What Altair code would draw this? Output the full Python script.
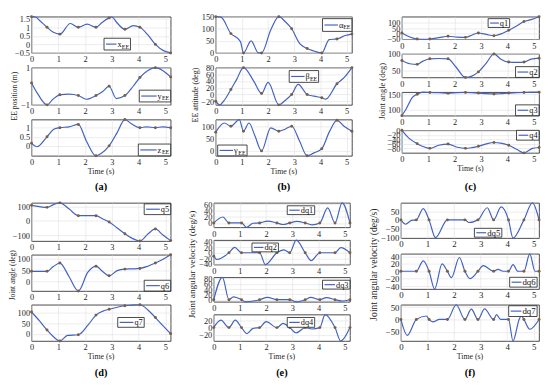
import altair as alt
import pandas as pd

# ---------------- shared values ----------------
T_MAX = 5.2
WP_T = [0, 0.58, 1.06, 1.75, 2.41, 2.9, 3.49, 4.05, 4.63, 5.2]
X_TICKS = [0, 1, 2, 3, 4, 5]

# ---------------- panel (a) EE position ----------------
XEE_WP = [1.62, 1.0, 0.6, 1.0, 1.0, 1.55, 0.88, 1.0, 0.0, -0.5]
XEE_T = [0.15, 0.3, 0.8, 1.45, 2.08, 2.65, 3.0, 3.2, 3.8, 4.35, 4.95]
XEE_V = [1.6, 1.4, 0.72, 1.22, 1.18, 1.3, 1.6, 1.25, 1.1, 0.55, -0.38]
XEE_TICKS = [-0.5, 0, 0.5, 1, 1.5]

YEE_WP = [0.18, -1.0, -0.46, -0.5, -0.5, 0.0, -0.5, 0.47, 1.0, 0.5]
YEE_T = [0.25, 0.8, 1.4, 2.05, 2.65, 3.17, 3.8, 4.35, 4.9]
YEE_V = [-0.45, -0.7, -0.42, -0.7, -0.3, -0.66, 0.0, 0.85, 0.85]
YEE_TICKS = [-1, 0, 1]

ZEE_WP = [0.15, 0.5, 1.0, 1.18, -0.55, 0.0, 1.45, 1.0, 1.0, 1.0]
ZEE_T = [0.2, 0.85, 1.4, 2.05, 2.6, 3.2, 3.75, 4.3, 4.9]
ZEE_V = [-0.05, 0.93, 1.05, 0.27, -0.42, 0.73, 1.2, 1.05, 1.05]
ZEE_TICKS = [0, 0.5, 1]

# ---------------- panel (b) EE attitude ----------------
AEE_WP = [150, 80, 0, 0, 150, 100, 18, 0, 58, 78]
AEE_T = [0.2, 0.84, 0.95, 1.35, 1.63, 2.1, 2.65, 3.2, 3.75, 4.33, 4.95]
AEE_V = [148, 60, 45, 50, 0, 95, 130, 40, 8, 55, 72]
AEE_TICKS = [0, 50, 100, 150]

BEE_WP = [-20, 15, 80, 3, -31, 0, 0, -10, 32, 80]
BEE_T = [0.15, 0.35, 0.8, 1.45, 2.0, 2.65, 3.15, 3.75, 4.2, 4.9]
BEE_V = [-31, -15, 45, 40, 36, -18, 30, -5, -14, 50]
BEE_TICKS = [-20, 0, 20, 40, 60, 80]

GEE_WP = [76, 100, 80, 0, 80, 100, -20, 9, 124, 80]
GEE_T = [0.33, 0.9, 1.27, 1.5, 2.1, 2.65, 3.2, 3.75, 4.35, 4.9]
GEE_V = [113, 127, 113, 60, 93, 88, 40, -8, 80, 100]
GEE_TICKS = [0, 50, 100]

# ---------------- panel (c) joint angles q1-q4 ----------------
Q1_WP = [5, -50, -50, -25, -35, 5, -20, 30, 110, 155]
Q1_T = [0.3, 0.8, 1.4, 2.1, 2.65, 3.2, 3.8, 4.35, 4.9]
Q1_V = [-32, -52, -38, -33, -15, -8, 0, 70, 128]
Q1_TICKS = [-50, 0, 50, 100]

Q2_WP = [80, 68, 85, 85, 28, 45, 100, 75, 75, 87]
Q2_T = [0.3, 0.8, 1.4, 2.05, 2.65, 3.2, 3.75, 4.35, 4.9]
Q2_V = [70, 78, 86, 60, 32, 72, 84, 74, 84]
Q2_TICKS = [50, 100]

Q3_WP = [80, 150, 156, 153, 156, 154, 151, 154, 156, 157]
Q3_T = [0.15, 0.4, 0.8, 1.4, 2.1, 2.65, 3.2, 3.75, 4.35, 4.9]
Q3_V = [100, 140, 157, 155, 155, 155, 152, 152, 155, 157]
Q3_TICKS = [100, 150]

Q4_WP = [0, -59, -80, -61, -80, -71, -54, -66, -100, -76]
Q4_T = [0.3, 0.8, 1.4, 2.1, 2.65, 3.2, 3.75, 4.35, 4.95]
Q4_V = [-38, -72, -66, -75, -77, -60, -57, -84, -80]
Q4_TICKS = [-80, -60, -40, -20, 0]

# ---------------- panel (d) joint angles q5-q7 ----------------
Q5_WP = [107, 93, 124, 36, 36, -7, -88, -138, -55, -135]
Q5_T = [0.3, 0.8, 1.4, 2.1, 2.65, 3.2, 3.75, 4.35, 4.9]
Q5_V = [98, 110, 83, 36, 15, -48, -118, -90, -95]
Q5_TICKS = [-100, 0, 100]

Q6_WP = [45, 45, 82, -43, 68, 25, 55, 58, 82, 119]
Q6_T = [0.3, 0.8, 1.4, 2.1, 2.65, 3.2, 3.75, 4.35, 4.9]
Q6_V = [45, 65, 22, 40, 45, 48, 56, 68, 98]
Q6_TICKS = [0, 50, 100]

Q7_WP = [105, 18, -35, -5, 90, 118, 135, 140, 78, 0]
Q7_T = [0.3, 0.8, 1.35, 2.1, 2.65, 3.2, 3.75, 4.35, 4.9]
Q7_V = [62, -12, -8, 40, 108, 128, 138, 115, 40]
Q7_TICKS = [0, 50, 100]

# ---------------- panel (e) joint velocities dq1-dq4 ----------------
DQ1_WP = [0, 0, 0, 0, 0, 0, 0, 0, 0, 0]
DQ1_T = [0.35, 0.8, 1.25, 1.5, 2.05, 2.65, 3.17, 3.75, 4.35, 4.9]
DQ1_V = [19, 0, -14, -1, 6, -5, 5, -6, 48, 64]
DQ1_TICKS = [0, 20, 40, 60]

DQ2_WP = [-12, 0, 0, 0, 0, 0, 0, 0, 0, 0]
DQ2_T = [0.12, 0.8, 1.4, 1.97, 2.68, 3.15, 3.72, 4.35, 4.85]
DQ2_V = [-24, 19, 0, -42, 10, 45, -28, 0, 18]
DQ2_TICKS = [-40, -20, 0, 20, 40]

DQ3_WP = [0, 0, 0, 0, 0, 0, 0, 0, 0, 0]
DQ3_T = [0.33, 0.75, 1.2, 2.05, 2.65, 3.15, 3.7, 4.3, 4.9]
DQ3_V = [85, 11, -8, 9, 0, -8, 9, 8, -5]
DQ3_TICKS = [0, 20, 40, 60, 80]

DQ4_WP = [0, 0, 0, 0, 0, 0, 0, 0, 0, 0]
DQ4_T = [0.27, 0.82, 1.27, 1.5, 2.0, 2.65, 3.15, 3.75, 4.25, 4.85]
DQ4_V = [21, 21, -17, -2, 17, 12, -15, -4, 37, -38]
DQ4_TICKS = [-20, 0, 20]

# ---------------- panel (f) joint velocities dq5-dq7 ----------------
DQ5_WP = [0, 0, 0, 0, 0, 0, 0, 0, 0, 0]
DQ5_T = [0.18, 0.4, 0.84, 1.3, 2.1, 2.55, 3.25, 3.77, 4.22, 4.95]
DQ5_V = [-25, -3, 65, -102, 0, -15, 70, 75, -105, 98]
DQ5_TICKS = [-100, -50, 0, 50]

DQ6_WP = [0, 0, 0, 0, 0, 0, 0, 0, 0, 0]
DQ6_T = [0.3, 0.84, 1.27, 1.55, 1.9, 2.2, 2.6, 3.1, 3.65, 3.85, 4.22, 4.4, 4.85, 5.05]
DQ6_V = [0, 28, -48, 20, -17, 37, -20, 15, 5, 0, 18, 0, 47, 0]
DQ6_TICKS = [-40, -20, 0, 20, 40]

DQ7_WP = [0, 0, 0, 0, 0, 0, 0, 0, 0, 0]
DQ7_T = [0.24, 0.96, 1.2, 1.45, 2.08, 2.65, 3.15, 3.6, 3.75, 4.22, 4.45, 4.53, 4.85]
DQ7_V = [-65, 14, -10, 0, 60, 42, 43, 20, 0, -88, 0, 15, -40]
DQ7_TICKS = [-50, 0, 50]

# ---------------- styling ----------------
BLUE = "#4262c2"
DOT = "#7a6040"
SERIF = "Liberation Serif"
TXT = "#262626"
DUMMY = pd.DataFrame({"k": [0]})


def text_layer(text, x, y, size, angle=0, weight="normal", align="center", color=TXT):
    kw = dict(text=text, font=SERIF, fontSize=size, color=color, align=align,
              baseline="middle", fontWeight=weight)
    if angle:
        kw["angle"] = angle
    return alt.Chart(DUMMY).mark_text(**kw).encode(x=alt.value(x), y=alt.value(y))


def legend_layers(box, main, sub, lfs):
    x1, y1, x2, y2 = box
    yc = (y1 + y2) / 2
    if sub:
        mw = 4.4 * lfs / 8.5
        tw = mw + 3.7 * len(sub) * lfs / 8.5
    else:
        mw = 0
        tw = 4.25 * len(main) * lfs / 8.5
    tx = x2 - tw - 1.5
    layers = [
        alt.Chart(DUMMY).mark_rect(fill="white", stroke="#1a1a1a", strokeWidth=0.8).encode(
            x=alt.value(x1), x2=alt.value(x2), y=alt.value(y1), y2=alt.value(y2)),
        alt.Chart(DUMMY).mark_rule(color=BLUE, strokeWidth=1.2).encode(
            x=alt.value(x1 + 2), x2=alt.value(tx - 1), y=alt.value(yc)),
        text_layer(main, tx, yc, lfs, align="left", color="#111"),
    ]
    if sub:
        layers.append(text_layer(sub, tx + mw, yc + 2.5, lfs * 0.72, align="left", color="#111"))
    return layers


def subplot(wp, et, ev, yticks, W, H, box, main, sub, lfs, extra):
    curve = pd.DataFrame({"t": list(WP_T) + list(et), "v": list(wp) + list(ev)}).sort_values("t")
    pts = pd.DataFrame({"t": WP_T, "v": wp})
    yfmt = "d" if all(float(v).is_integer() for v in yticks) else ".1~f"
    xenc = alt.X("t:Q", scale=alt.Scale(domain=[0, T_MAX], nice=False, zero=False),
                 axis=alt.Axis(values=X_TICKS, title=None, format="d", labelFlush=False,
                               labelOverlap=False, labelFontSize=lfs, tickCount=6))
    yenc = alt.Y("v:Q", scale=alt.Scale(nice=False, zero=False),
                 axis=alt.Axis(values=yticks, title=None, format=yfmt, labelOverlap=False,
                               labelFontSize=lfs, tickCount=len(yticks)))
    line = alt.Chart(curve).mark_line(interpolate="monotone", color=BLUE, strokeWidth=1.2).encode(
        x=xenc, y=yenc)
    dots = alt.Chart(pts).mark_circle(size=9, color=DOT, opacity=1).encode(x=xenc, y=yenc)
    layers = [line, dots] + legend_layers(box, main, sub, lfs) + extra
    return alt.layer(*layers).properties(width=W, height=H)


def panel(W, heights, spacing, rows, ytitle, tfs, tx, ty, label, time_dy, lab_dy, lfs):
    charts = []
    n = len(rows)
    for i, (r, H) in enumerate(zip(rows, heights)):
        extra = []
        if i == 0:
            extra.append(text_layer(ytitle, tx, ty, tfs, angle=270))
        if i == n - 1:
            extra.append(text_layer("Time (s)", W / 2, H + time_dy, 8))
            extra.append(text_layer(label, W / 2, H + lab_dy, 10.5, weight="bold", color="black"))
        wp, et, ev, yt, box, main, sub = r
        charts.append(subplot(wp, et, ev, yt, W, H, box, main, sub, lfs, extra))
    return alt.vconcat(*charts, spacing=spacing, bounds="flush")


A = panel(142, [37, 38, 37], 15, [
    (XEE_WP, XEE_T, XEE_V, XEE_TICKS, (74, 22, 101, 34), "x", "EE"),
    (YEE_WP, YEE_T, YEE_V, YEE_TICKS, (110, 23, 142, 35), "y", "EE"),
    (ZEE_WP, ZEE_T, ZEE_V, ZEE_TICKS, (109, 25, 142, 37), "z", "EE"),
], "EE position (m)", 7.8, -17, 81, "(a)", 17, 32, 8.5)

B = panel(139, [37, 38, 37], 15, [
    (AEE_WP, AEE_T, AEE_V, AEE_TICKS, (109, 2, 139, 15), "α", "EE"),
    (BEE_WP, BEE_T, BEE_V, BEE_TICKS, (75, 3, 105, 15), "β", "EE"),
    (GEE_WP, GEE_T, GEE_V, GEE_TICKS, (2, 26, 32, 37), "γ", "EE"),
], "EE attitude (deg)", 8.2, -20, 80, "(b)", 17, 32, 8.5)

C = panel(140, [23, 24, 24, 23], 15, [
    (Q1_WP, Q1_T, Q1_V, Q1_TICKS, (88, 2, 110, 11), "q1", None),
    (Q2_WP, Q2_T, Q2_V, Q2_TICKS, (116, 13, 140, 24), "q2", None),
    (Q3_WP, Q3_T, Q3_V, Q3_TICKS, (116, 13, 140, 24), "q3", None),
    (Q4_WP, Q4_T, Q4_V, Q4_TICKS, (117, 0, 140, 10), "q4", None),
], "Joint angle (deg)", 8.6, -20, 76, "(c)", 17, 35, 8.5)

D = panel(142, [39, 37, 37], 14, [
    (Q5_WP, Q5_T, Q5_V, Q5_TICKS, (115, 1, 142, 12), "q5", None),
    (Q6_WP, Q6_T, Q6_V, Q6_TICKS, (115, 26, 142, 37), "q6", None),
    (Q7_WP, Q7_T, Q7_V, Q7_TICKS, (88, 13, 115, 23), "q7", None),
], "Joint angle (deg)", 7.6, -19, 74, "(d)", 16, 33, 8.5)

E = panel(139, [25, 25, 25, 27], 13, [
    (DQ1_WP, DQ1_T, DQ1_V, DQ1_TICKS, (75, 3, 103, 12), "dq1", None),
    (DQ2_WP, DQ2_T, DQ2_V, DQ2_TICKS, (39, 3, 66, 12), "dq2", None),
    (DQ3_WP, DQ3_T, DQ3_V, DQ3_TICKS, (111, 3, 139, 12), "dq3", None),
    (DQ4_WP, DQ4_T, DQ4_V, DQ4_TICKS, (75, 3, 103, 13), "dq4", None),
], "Joint angular velocity (deg/s)", 9.4, -22, 63, "(e)", 16, 33, 8.5)

F = panel(141, [36, 36, 37], 16, [
    (DQ5_WP, DQ5_T, DQ5_V, DQ5_TICKS, (75, 26, 103, 35), "dq5", None),
    (DQ6_WP, DQ6_T, DQ6_V, DQ6_TICKS, (111, 24, 139, 34), "dq6", None),
    (DQ7_WP, DQ7_T, DQ7_V, DQ7_TICKS, (110, 1, 139, 12), "dq7", None),
], "Joint angular velocity (deg/s)", 9.8, -27.5, 63, "(f)", 16, 33, 9)

row1 = alt.hconcat(alt.hconcat(A, B, spacing=17), C, spacing=23)
row2 = alt.hconcat(alt.hconcat(D, E, spacing=13), F, spacing=16)

chart = alt.vconcat(row1, row2, spacing=6).properties(padding=0).configure_view(
    stroke="#1a1a1a", strokeWidth=0.8
).configure_axis(
    labelFont=SERIF, labelColor=TXT, gridColor="#e0e0e0", gridWidth=0.6,
    domain=False, ticks=False, labelPadding=2
)

chart.save("out.html", embed_options={"renderer": "svg", "actions": False})
